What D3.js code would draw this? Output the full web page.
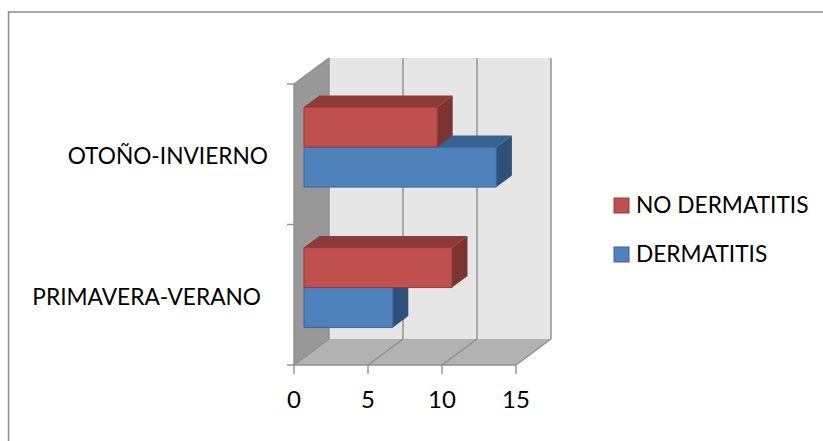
<!DOCTYPE html>
<html>
<head>
<meta charset="utf-8">
<script src="https://cdnjs.cloudflare.com/ajax/libs/d3/7.8.5/d3.min.js"></script>
<style>
html,body{margin:0;padding:0;background:#fff;}
svg{display:block;}
text{font-family:Lato,"Open Sans",sans-serif;fill:#000;}
</style>
</head>
<body>
<svg id="chart" width="823" height="441"></svg>
<script>
const categories = ["OTOÑO-INVIERNO", "PRIMAVERA-VERANO"];
const seriesNames = ["NO DERMATITIS", "DERMATITIS"];
const noDermatitis = [9, 10];
const dermatitis = [13, 6];
const axisTicks = [0, 5, 10, 15];

const svg = d3.select("#chart");

// Chart frame: only the top and left edges fall inside the canvas
svg.append("path").attr("d", "M8.5,441V12H823")
  .attr("fill", "none").attr("stroke", "#8c8c8c").attr("stroke-width", 1.5);

const x = d3.scaleLinear().domain([0, 15]).range([294, 516]);
const yCat = d3.scaleBand().domain(categories).range([84, 365]);
const ySeries = d3.scaleBand().domain(seriesNames).range([23, 23 + 80]);

// Oblique projection: depth 0 is the front plane, depth 1 the back wall
const depthX = 35, depthY = -26;
const pt = (v, y, d) => [x(v) + d * depthX, y + d * depthY];
const poly = (pts, fill, stroke) => svg.append("polygon")
  .attr("points", pts.map(p => p.join(",")).join(" "))
  .attr("fill", fill).attr("stroke", stroke || "none").attr("stroke-width", stroke ? 1 : 0);

const yTop = yCat.range()[0], yBottom = yCat.range()[1];

// Back wall, side wall and floor
poly([pt(0, yTop, 1), pt(15, yTop, 1), pt(15, yBottom, 1), pt(0, yBottom, 1)], "#e6e6e6");
poly([pt(0, yTop, 0), pt(0, yTop, 1), pt(0, yBottom, 1), pt(0, yBottom, 0)], "#989898");
poly([pt(0, yBottom, 0), pt(0, yBottom, 1), pt(15, yBottom, 1), pt(15, yBottom, 0)], "#b2b2b2");

// Gridlines across floor and back wall
const gridColor = "#8f8f8f";
const seg = (a, b, w) => svg.append("line")
  .attr("x1", a[0]).attr("y1", a[1]).attr("x2", b[0]).attr("y2", b[1])
  .attr("stroke", gridColor).attr("stroke-width", w || 1.4);
axisTicks.forEach(t => {
  seg(pt(t, yBottom, 0), pt(t, yBottom, 1));
  seg(pt(t, yBottom, 1), pt(t, yTop, 1));
});
seg(pt(0, yTop, 0), pt(0, yTop, 1));
seg(pt(0, yTop, 0), pt(0, yBottom, 0));
seg(pt(0, yBottom, 0), pt(15, yBottom, 0));

// Axis ticks
axisTicks.forEach(t => seg(pt(t, yBottom, 0), [x(t), yBottom + 9]));
[yTop, yCat(categories[1]), yBottom].forEach(y => seg([x(0) - 7, y], [x(0), y]));

// Bars: three visible faces per box
const styles = {
  "NO DERMATITIS": {front: "#c0504d", top: "#8e3a38", side: "#7c3331", edge: "#953a38"},
  "DERMATITIS": {front: "#4f81bd", top: "#3a6291", side: "#2f5179", edge: "#38659b"}
};
const d0 = 10 / depthX, d1 = 25.5 / depthX;
function bar(cat, name, value) {
  const s = styles[name];
  const yFront = yCat(cat) + ySeries(name) - ySeries("NO DERMATITIS") + 30.5;
  const h = ySeries.bandwidth();
  const y0 = yFront, y1 = yFront + h;
  poly([pt(0, y0, d0), pt(0, y0, d1), pt(value, y0, d1), pt(value, y0, d0)], s.top);
  poly([pt(value, y0, d0), pt(value, y0, d1), pt(value, y1, d1), pt(value, y1, d0)], s.side);
  poly([pt(0, y0, d0), pt(value, y0, d0), pt(value, y1, d0), pt(0, y1, d0)], s.front, s.edge);
}
// Rear-to-front paint order so nearer boxes cover the ones behind
categories.forEach((c, i) => {
  bar(c, "DERMATITIS", dermatitis[i]);
  bar(c, "NO DERMATITIS", noDermatitis[i]);
});

// Value axis labels
svg.append("g").selectAll("text").data(axisTicks).join("text")
  .attr("x", d => x(d)).attr("y", 408).attr("text-anchor", "middle")
  .attr("font-size", 24).text(d => d);

// Category labels
const catLabelX = [268, 261];
const catLabelY = [164, 304.5];
svg.append("g").selectAll("text").data(categories).join("text")
  .attr("x", (d, i) => catLabelX[i]).attr("y", (d, i) => catLabelY[i])
  .attr("text-anchor", "end").attr("font-size", 22.7).text(d => d);

// Legend
const legend = svg.append("g").selectAll("g").data(seriesNames).join("g")
  .attr("transform", (d, i) => `translate(614,${198 + i * 49})`);
legend.append("rect").attr("width", 15).attr("height", 15)
  .attr("fill", d => styles[d].front).attr("stroke", d => styles[d].edge);
legend.append("text").attr("x", 22).attr("y", 14.5).attr("font-size", 22.7).text(d => d);
</script>
</body>
</html>
